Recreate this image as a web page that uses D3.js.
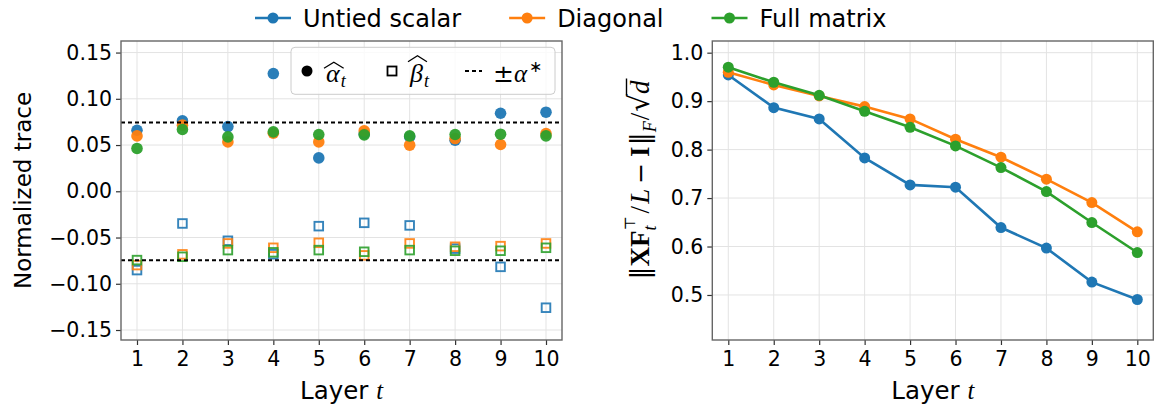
<!DOCTYPE html>
<html>
<head>
<meta charset="utf-8">
<script src="https://cdn.jsdelivr.net/npm/d3@7"></script>
<style>
  body { margin: 0; background: #fff; }
  text { font-family: "DejaVu Sans", sans-serif; fill: #000; }
</style>
</head>
<body>
<div id="chart"></div>
<script>
// ---- data ----
const layers = [1, 2, 3, 4, 5, 6, 7, 8, 9, 10];
const seriesNames = ["Untied scalar", "Diagonal", "Full matrix"];
const colors = ["#1f77b4", "#ff7f0e", "#2ca02c"];

// alpha_t (filled circles)
const alphaUntied   = [0.066, 0.0761, 0.070, 0.1273, 0.0361, 0.062, 0.059, 0.0553, 0.0844, 0.0855];
const alphaDiagonal = [0.0599, 0.0715, 0.0534, 0.0628, 0.0534, 0.0653, 0.0499, 0.057, 0.0506, 0.0625];
const alphaFull     = [0.0463, 0.0668, 0.0588, 0.0642, 0.0614, 0.061, 0.0599, 0.0614, 0.0617, 0.0599];

// beta_t (open squares)
const betaUntied   = [-0.0852, -0.0348, -0.0535, -0.068, -0.0377, -0.0341, -0.0369, -0.062, -0.0817, -0.1259];
const betaDiagonal = [-0.0798, -0.0682, -0.0564, -0.0611, -0.0557, -0.0693, -0.0564, -0.060, -0.0593, -0.0564];
const betaFull     = [-0.0744, -0.0708, -0.0636, -0.066, -0.0636, -0.0654, -0.0636, -0.0643, -0.0643, -0.0611];

const alphaStar = 0.0745;

// right panel: ||XF^T/L - I||_F / sqrt(d)
const normUntied   = [0.954, 0.8866, 0.8633, 0.7829, 0.7272, 0.7225, 0.6392, 0.5967, 0.5266, 0.4907];
const normDiagonal = [0.9596, 0.9334, 0.9107, 0.8887, 0.8633, 0.8214, 0.7843, 0.739, 0.6907, 0.6303];
const normFull     = [0.970, 0.939, 0.912, 0.879, 0.846, 0.8076, 0.7629, 0.7134, 0.6495, 0.5876];

const leftTicks  = [-0.15, -0.10, -0.05, 0.00, 0.05, 0.10, 0.15];
const rightTicks = [0.5, 0.6, 0.7, 0.8, 0.9, 1.0];

const alphas = [alphaUntied, alphaDiagonal, alphaFull];
const betas  = [betaUntied, betaDiagonal, betaFull];
const norms  = [normUntied, normDiagonal, normFull];

// ---- layout ----
const width = 1158, height = 408;
const tickFont = 20.5, labelFont = 24.5, legendFont = 24;
const mathFont = '"Liberation Serif", "DejaVu Serif", serif';

const svg = d3.select("#chart").append("svg")
  .attr("width", width)
  .attr("height", height);

const L = { x0: 121, x1: 562, y0: 41, y1: 340 };
const R = { x0: 712.3, x1: 1153.3, y0: 41, y1: 340 };

const xL = d3.scaleLinear().domain([0.648, 10.352]).range([L.x0, L.x1]);
const yL = d3.scaleLinear().domain([-0.1608, 0.1625]).range([L.y1, L.y0]);
const xR = d3.scaleLinear().domain([0.648, 10.352]).range([R.x0, R.x1]);
const yR = d3.scaleLinear().domain([0.4071, 1.0241]).range([R.y1, R.y0]);

function drawFrame(box, x, y, yTicks, fmt) {
  const g = svg.append("g");

  // grid
  g.selectAll("line.gx").data(layers).enter().append("line")
    .attr("x1", d => x(d)).attr("x2", d => x(d))
    .attr("y1", box.y0).attr("y2", box.y1)
    .attr("stroke", "#e3e3e3").attr("stroke-width", 1);
  g.selectAll("line.gy").data(yTicks).enter().append("line")
    .attr("x1", box.x0).attr("x2", box.x1)
    .attr("y1", d => y(d)).attr("y2", d => y(d))
    .attr("stroke", "#e3e3e3").attr("stroke-width", 1);

  // axes
  const ax = svg.append("g")
    .attr("transform", `translate(0,${box.y1})`)
    .call(d3.axisBottom(x).tickValues(layers).tickSize(5).tickPadding(6).tickFormat(d3.format("d")));
  const ay = svg.append("g")
    .attr("transform", `translate(${box.x0},0)`)
    .call(d3.axisLeft(y).tickValues(yTicks).tickSize(5).tickPadding(4).tickFormat(d3.format(fmt)));
  [ax, ay].forEach(a => {
    a.select(".domain").remove();
    a.selectAll(".tick line").attr("stroke", "#333").attr("stroke-width", 1.2);
    a.selectAll(".tick text")
      .style("font-family", '"DejaVu Sans", sans-serif')
      .style("font-size", tickFont + "px")
      .attr("fill", "#111");
  });
  return g;
}

function drawBorder(box) {
  svg.append("rect")
    .attr("x", box.x0).attr("y", box.y0)
    .attr("width", box.x1 - box.x0).attr("height", box.y1 - box.y0)
    .attr("fill", "none").attr("stroke", "#666").attr("stroke-width", 1.4);
}

// ---- left panel ----
drawFrame(L, xL, yL, leftTicks, ".2f");

alphas.forEach((vals, i) => {
  svg.append("g").selectAll("circle")
    .data(vals).enter().append("circle")
    .attr("cx", (d, j) => xL(layers[j]))
    .attr("cy", d => yL(d))
    .attr("r", 5.8)
    .attr("fill", colors[i])
    .attr("opacity", 0.95);
  svg.append("g").selectAll("rect")
    .data(betas[i]).enter().append("rect")
    .attr("x", (d, j) => xL(layers[j]) - 4.3)
    .attr("y", d => yL(d) - 4.3)
    .attr("width", 8.6).attr("height", 8.6)
    .attr("fill", "none")
    .attr("stroke", colors[i])
    .attr("stroke-width", 1.9)
    .attr("opacity", 0.9);
});

[alphaStar, -alphaStar].forEach(v => {
  svg.append("line")
    .attr("x1", L.x0).attr("x2", L.x1)
    .attr("y1", yL(v)).attr("y2", yL(v))
    .attr("stroke", "#000").attr("stroke-width", 2)
    .attr("stroke-dasharray", "4,3");
});

drawBorder(L);

// inner legend
const lg = svg.append("g");
lg.append("rect")
  .attr("x", 291).attr("y", 47.3).attr("width", 264).attr("height", 47)
  .attr("rx", 4)
  .attr("fill", "#fff").attr("fill-opacity", 0.8)
  .attr("stroke", "#ccc").attr("stroke-width", 1);

const lgY = 71, lgBase = 81.5;
lg.append("circle").attr("cx", 307).attr("cy", lgY).attr("r", 5.5).attr("fill", "#000");
lg.append("rect").attr("x", 387.5).attr("y", lgY - 4.5).attr("width", 9).attr("height", 9)
  .attr("fill", "none").attr("stroke", "#000").attr("stroke-width", 1.8);
lg.append("line").attr("x1", 465).attr("x2", 482).attr("y1", lgY).attr("y2", lgY)
  .attr("stroke", "#000").attr("stroke-width", 2).attr("stroke-dasharray", "4,3");

function hatSymbol(x, base, glyph, topEm) {
  const t = lg.append("text")
    .attr("x", x).attr("y", base)
    .style("font-family", mathFont).style("font-style", "italic")
    .style("font-size", "26px")
    .text(glyph);
  const w = t.node().getComputedTextLength();
  const top = base - topEm * 26;
  lg.append("path")
    .attr("d", `M${x - 2},${top - 1} L${x + w / 2 + 1},${top - 7} L${x + w + 4},${top - 1}`)
    .attr("fill", "none").attr("stroke", "#000").attr("stroke-width", 1.3);
  lg.append("text")
    .attr("x", x + w + 1).attr("y", base + 5)
    .style("font-family", mathFont).style("font-style", "italic")
    .style("font-size", "18px")
    .text("t");
}
hatSymbol(326, lgBase, "α", 0.47);
hatSymbol(410, lgBase, "β", 0.72);

const pm = lg.append("text").attr("x", 493).attr("y", lgBase)
  .style("font-size", "25px");
pm.append("tspan").style("font-family", '"DejaVu Serif", serif').text("±");
pm.append("tspan").style("font-family", mathFont).style("font-style", "italic").text("α");
pm.append("tspan").attr("dx", 2).attr("dy", -10).style("font-size", "16px")
  .style("font-family", '"DejaVu Sans", sans-serif').text("∗");

// left labels
svg.append("text")
  .attr("transform", `translate(31,${(L.y0 + L.y1) / 2}) rotate(-90)`)
  .attr("text-anchor", "middle")
  .style("font-size", "23px")
  .text("Normalized trace");

function layerLabel(box) {
  const t = svg.append("text")
    .attr("x", (box.x0 + box.x1) / 2).attr("y", 399)
    .attr("text-anchor", "middle")
    .style("font-size", labelFont + "px");
  t.append("tspan").text("Layer ");
  t.append("tspan").style("font-family", mathFont).style("font-style", "italic").text("t");
}
layerLabel(L);

// ---- right panel ----
drawFrame(R, xR, yR, rightTicks, ".1f");

const line = d3.line()
  .x((d, j) => xR(layers[j]))
  .y(d => yR(d));

norms.forEach((vals, i) => {
  svg.append("path")
    .datum(vals)
    .attr("d", line)
    .attr("fill", "none")
    .attr("stroke", colors[i])
    .attr("stroke-width", 2.6);
  svg.append("g").selectAll("circle")
    .data(vals).enter().append("circle")
    .attr("cx", (d, j) => xR(layers[j]))
    .attr("cy", d => yR(d))
    .attr("r", 5.5)
    .attr("fill", colors[i]);
});

drawBorder(R);
layerLabel(R);

// right y label built piece by piece: ||XF_t^T / L - I||_F / sqrt(d)
const ylab = svg.append("g")
  .attr("transform", `translate(649,180) rotate(-90)`);
const inner = ylab.append("g");
const pieces = [
  { s: "‖", f: '"DejaVu Serif", serif', size: 26 },
  { s: "XF", f: mathFont, w: "bold", size: 27 },
  { s: "t", f: mathFont, st: "italic", size: 18, dy: 7, stack: true },
  { s: "⊤", f: '"DejaVu Serif", serif', size: 15, dy: -14 },
  { s: "/", f: mathFont, size: 27, pad: 2 },
  { s: "L", f: mathFont, st: "italic", size: 27 },
  { s: "−", f: '"DejaVu Sans", sans-serif', size: 25, pad: 5 },
  { s: "I", f: mathFont, w: "bold", size: 27, pad: 1 },
  { s: "‖", f: '"DejaVu Serif", serif', size: 26 },
  { s: "F", f: mathFont, st: "italic", size: 18, dy: 7 },
  { s: "/", f: mathFont, size: 27, pad: 1 },
  { s: "√", f: '"DejaVu Sans", sans-serif', size: 28 },
  { s: "d", f: mathFont, st: "italic", size: 27, bar: true }
];
let cx = 0, stackX = null, stackW = 0, radEnd = 0;
pieces.forEach(p => {
  const px = (p.pad || 0);
  const t = inner.append("text")
    .attr("x", (stackX !== null ? stackX : cx + px))
    .attr("y", p.dy || 0)
    .attr("fill", "#000")
    .style("font-family", p.f)
    .style("font-style", p.st || "normal")
    .style("font-weight", p.w || "normal")
    .style("font-size", p.size + "px")
    .text(p.s);
  const w = t.node().getComputedTextLength();
  if (p.stack) {
    stackX = cx;
    stackW = w;
    return;
  }
  if (stackX !== null) {
    cx = stackX + Math.max(stackW, w) + 1;
    stackX = null;
  } else {
    cx += px + w + px;
  }
  if (p.s === "√") radEnd = cx;
  if (p.bar) {
    inner.append("line")
      .attr("x1", radEnd - 1.5).attr("x2", cx + 2)
      .attr("y1", -22.5).attr("y2", -22.5)
      .attr("stroke", "#000").attr("stroke-width", 1.4);
  }
});
inner.attr("transform", `translate(${-cx / 2},0)`);

// ---- top legend ----
const tl = svg.append("g");
let lx = 255;
const legY = 18, legBase = 26.5;
const handleLen = 36, handlePad = 12, colGap = 48;
seriesNames.forEach((name, i) => {
  tl.append("line")
    .attr("x1", lx).attr("x2", lx + handleLen)
    .attr("y1", legY).attr("y2", legY)
    .attr("stroke", colors[i]).attr("stroke-width", 2.6);
  tl.append("circle")
    .attr("cx", lx + handleLen / 2).attr("cy", legY).attr("r", 5.5)
    .attr("fill", colors[i]);
  const t = tl.append("text")
    .attr("x", lx + handleLen + handlePad).attr("y", legBase)
    .style("font-size", legendFont + "px")
    .text(name);
  lx += handleLen + handlePad + t.node().getComputedTextLength() + colGap;
});
</script>
</body>
</html>
